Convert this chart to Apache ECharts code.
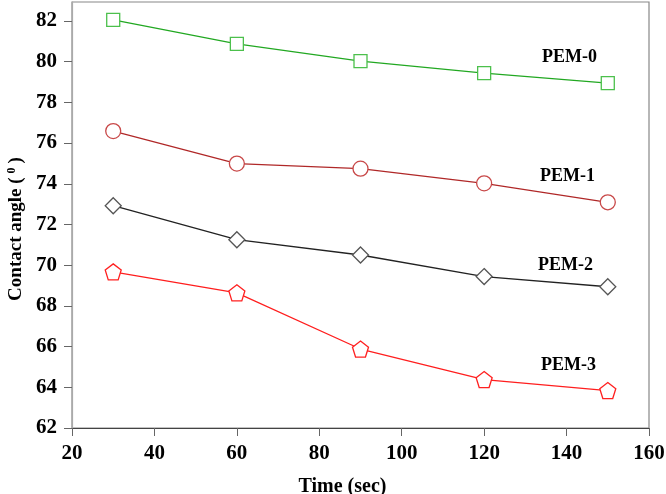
<!DOCTYPE html>
<html><head><meta charset="utf-8">
<script src="https://cdn.jsdelivr.net/npm/echarts@6/dist/echarts.min.js"></script>
<style>html,body{margin:0;padding:0;background:#fff}#c{width:666px;height:494px}</style>
</head><body><div id="c"></div>
<script>
const times = [30, 60, 90, 120, 150];
const pem0 = [82.05, 80.87, 80.03, 79.44, 78.94];
const pem1 = [76.59, 74.99, 74.74, 74.02, 73.09];
const pem2 = [72.92, 71.25, 70.50, 69.44, 68.94];
const pem3 = [69.67, 68.64, 65.88, 64.38, 63.84];
const seriesNames = ['PEM-0', 'PEM-1', 'PEM-2', 'PEM-3'];
const yTicks = [62, 64, 66, 68, 70, 72, 74, 76, 78, 80, 82];
const xTicks = [20, 40, 60, 80, 100, 120, 140, 160];

const pentagon = 'path://M0,-1 L0.951,-0.309 L0.588,0.809 L-0.588,0.809 L-0.951,-0.309 Z';
const diamond = 'path://M0,-1 L1,0 L0,1 L-1,0 Z';
const font = '"Liberation Serif","Times New Roman",serif';

function mk(name, vals, lineColor, markColor, symbol, size) {
  return {
    name, type: 'line', data: times.map((t, i) => [t, vals[i]]),
    symbol, symbolSize: size, showAllSymbol: true,
    lineStyle: { color: lineColor, width: 1.3 },
    itemStyle: { color: '#fff', borderColor: markColor, borderWidth: 1.3 },
    emphasis: { disabled: true }, z: 3
  };
}
const chart = echarts.init(document.getElementById('c'), null, { renderer: 'canvas' });
chart.setOption({
  animation: false,
  grid: { left: 72, right: 17, top: 2, bottom: 66, show: true, borderColor: '#888', borderWidth: 1.2,
          containLabel: false, outerBoundsMode: 'none' },
  xAxis: {
    type: 'value', min: 20, max: 160, interval: 20,
    axisLine: { lineStyle: { color: '#444', width: 1.2 } },
    axisTick: { inside: false, length: 8, lineStyle: { color: '#666' }, customValues: xTicks },
    splitLine: { show: false },
    axisLabel: { color: '#000', fontFamily: font, fontWeight: 'bold', fontSize: 21, margin: 15, customValues: xTicks },
    name: 'Time (sec)', nameLocation: 'middle', nameGap: 49,
    nameTextStyle: { color: '#000', fontFamily: font, fontWeight: 'bold', fontSize: 20, padding: [0, 36, 0, 0] }
  },
  yAxis: {
    type: 'value', min: 62, max: 82.93, interval: 2,
    axisLine: { show: true, lineStyle: { color: '#aaa', width: 1.2 } },
    axisTick: { show: true, length: 8, lineStyle: { color: '#666' }, customValues: yTicks },
    splitLine: { show: false },
    axisLabel: { color: '#000', fontFamily: font, fontWeight: 'bold', fontSize: 21, margin: 15, customValues: yTicks },
    name: '{a|Contact angle (}{s|0}{a|)}', nameLocation: 'middle', nameGap: 45,
    nameTextStyle: {
      padding: [0, 28, 0, 0],
      rich: {
        a: { color: '#000', fontFamily: font, fontWeight: 'bold', fontSize: 19 },
        s: { color: '#000', fontFamily: font, fontWeight: 'bold', fontSize: 12, verticalAlign: 'top', padding: [0, 4, 8, 4] }
      }
    }
  },
  series: [
    mk(seriesNames[0], pem0, '#22a822', '#4cc04c', 'rect', 13),
    mk(seriesNames[1], pem1, '#b02828', '#c84848', 'circle', 15),
    mk(seriesNames[2], pem2, '#222', '#555', diamond, 16),
    mk(seriesNames[3], pem3, '#ff1e1e', '#ff2020', pentagon, 16)
  ],
  graphic: [
    { type: 'text', left: 542, top: 48, style: { text: seriesNames[0], font: 'bold 18px ' + font, fill: '#000' } },
    { type: 'text', left: 540, top: 167, style: { text: seriesNames[1], font: 'bold 18px ' + font, fill: '#000' } },
    { type: 'text', left: 538, top: 256, style: { text: seriesNames[2], font: 'bold 18px ' + font, fill: '#000' } },
    { type: 'text', left: 541, top: 356, style: { text: seriesNames[3], font: 'bold 18px ' + font, fill: '#000' } }
  ]
});
</script></body></html>
